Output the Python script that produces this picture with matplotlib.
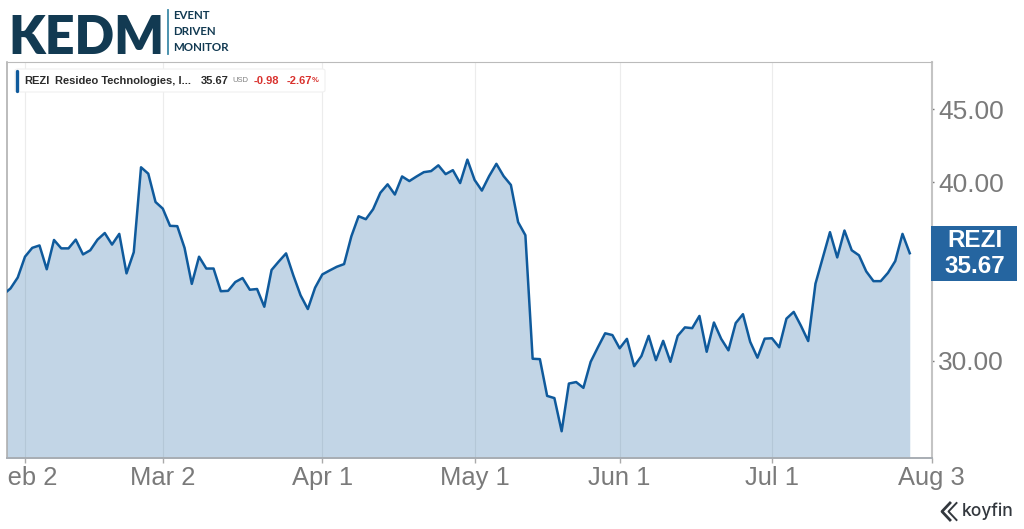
import matplotlib
matplotlib.use("Agg")
import matplotlib.pyplot as plt
import numpy as np
from matplotlib.lines import Line2D
from matplotlib.patches import FancyBboxPatch, Rectangle
from matplotlib.ticker import NullLocator
from matplotlib.transforms import Bbox

# closing prices, one per trading day
precios = [
    33.37, 33.70, 34.30, 35.47, 35.98, 36.12, 34.76, 36.44, 35.95, 35.95,
    36.46, 35.60, 35.84, 36.46, 36.85, 36.17, 36.80, 34.53, 35.73, 40.97,
    40.55, 38.74, 38.33, 37.28, 37.26, 35.98, 33.95, 35.47, 34.80, 34.80,
    33.55, 33.57, 34.05, 34.27, 33.63, 33.67, 32.72, 34.72, 35.20, 35.66,
    34.42, 33.33, 32.60, 33.74, 34.47, 34.69, 34.90, 35.05, 36.65, 37.86,
    37.68, 38.29, 39.32, 39.86, 39.21, 40.37, 40.07, 40.37, 40.65, 40.72,
    41.10, 40.52, 40.78, 39.94, 41.48, 40.14, 39.46, 40.39, 41.20, 40.39,
    39.82, 37.50, 36.72, 30.09, 30.07, 28.34, 28.24, 26.77, 28.91, 28.98,
    28.71, 29.94, 30.65, 31.35, 31.26, 30.60, 31.07, 29.73, 30.22, 31.22,
    30.02, 30.97, 29.94, 31.22, 31.65, 31.61, 32.24, 30.43, 31.90, 31.07,
    30.50, 31.87, 32.33, 30.92, 30.14, 31.08, 31.10, 30.65, 32.10, 32.45,
    31.73, 30.96, 33.96, 35.40, 36.90, 35.43, 37.00, 35.84, 35.55, 34.64,
    34.10, 34.10, 34.56, 35.22, 36.80, 35.67,
]
dias = np.arange(len(precios))

etiquetas_x = ["Feb 2", "Mar 2", "Apr 1", "May 1", "Jun 1", "Jul 1", "Aug 3"]
dias_x = [3, 22, 44, 65, 85, 106, 128]
valores_y = [30, 40, 45]
etiquetas_y = ["30.00", "40.00", "45.00"]

AZUL = "#0f5a9c"
GRIS = "#7a7a7a"
ROJO = "#d9322e"
OSCURO = "#123a52"
W, H = 1024, 529


def px(x, y):
    # pixeles de la imagen a coordenadas de figura
    return x / W, 1 - y / H


plt.rcParams["font.family"] = ["Liberation Sans", "DejaVu Sans"]
fig = plt.figure(figsize=(W / 100, H / 100), dpi=100)
ax = fig.add_axes([7.3 / W, 1 - 458 / H, (931.5 - 7.3) / W, (458 - 62) / H])

# Area y linea
ax.fill_between(dias, precios, 20, color=AZUL, alpha=0.25, linewidth=0, zorder=2)
ax.plot(dias, precios, color=AZUL, linewidth=1.8, zorder=3)

# Escala logaritmica como en el original
ax.set_yscale("log")
ax.set_ylim(25.64, 48.55)
ax.set_xlim(0.56, 127.85)
ax.yaxis.tick_right()
ax.set_yticks(valores_y)
ax.set_yticklabels(etiquetas_y)
ax.yaxis.set_minor_locator(NullLocator())
ax.set_xticks(dias_x)
ax.set_xticklabels(etiquetas_x)
ax.tick_params(axis="y", labelsize=19, labelcolor=GRIS, color="#777777", length=1.6, width=1, pad=3)
ax.tick_params(axis="x", labelsize=18.4, labelcolor=GRIS, color="#aaaaaa", length=3.5, width=1, pad=2)

# La F de "Feb 2" queda cortada por el borde del grafico
ax.get_xticklabels()[0].set_clip_on(True)
ax.get_xticklabels()[0].set_clip_box(Bbox.from_extents(7.5, 0, W, H))

ax.grid(axis="x", color="#ececec", linewidth=0.8, zorder=1)
ax.set_axisbelow(True)

ax.spines["left"].set_color("#aaaaaa")
ax.spines["left"].set_linewidth(1.1)
ax.spines["right"].set_color("#c4c4c4")
ax.spines["right"].set_linewidth(1.5)
ax.spines["top"].set_color("#bbbbbb")
ax.spines["top"].set_linewidth(0.8)
ax.spines["bottom"].set_color("#a8adb3")
ax.spines["bottom"].set_linewidth(1.4)

# Etiqueta de precio a la derecha
x0, y0 = px(931, 281)
fig.add_artist(Rectangle((x0, y0), 86 / W, 55 / H, transform=fig.transFigure,
                         facecolor="#2565a0", edgecolor="none", zorder=5))
fig.text(*px(975, 240.5), "REZI", color="white", fontsize=17.5, fontweight="bold",
         ha="center", va="center", zorder=6)
fig.text(*px(975, 266.5), "35.67", color="white", fontsize=17.5, fontweight="bold",
         ha="center", va="center", zorder=6)

# Leyenda
x0, y0 = px(15, 92)
fig.add_artist(FancyBboxPatch((x0, y0), 310 / W, 23 / H, transform=fig.transFigure,
                              boxstyle="round,pad=0,rounding_size=0.003", mutation_aspect=1,
                              facecolor="white", edgecolor="#f0f0f0", linewidth=0.8, zorder=5))
fig.add_artist(Line2D([16.5 / W, 16.5 / W], [1 - 71 / H, 1 - 91 / H], color=AZUL, linewidth=2.4,
                      solid_capstyle="round", zorder=6))
yl = 80.5
fig.text(*px(24, yl), "REZI", color="#2b2b2b", fontsize=8, fontweight="bold", va="center", zorder=6)
fig.text(*px(55, yl), "Resideo Technologies, I...", color="#2b2b2b", fontsize=8, fontweight="bold",
         va="center", zorder=6)
fig.text(*px(201, yl), "35.67", color="#2b2b2b", fontsize=8, fontweight="bold", va="center", zorder=6)
fig.text(*px(232, yl + 0.5), "USD", color="#808080", fontsize=5.5, va="center", zorder=6)
fig.text(*px(254, yl), "-0.98", color=ROJO, fontsize=8, fontweight="bold", va="center", zorder=6)
fig.text(*px(287, yl), "-2.67", color=ROJO, fontsize=8, fontweight="bold", va="center", zorder=6)
fig.text(*px(312, yl + 0.5), "%", color=ROJO, fontsize=5.5, fontweight="bold", va="center", zorder=6)

# Logo KEDM
fig.text(*px(8, 54), "KEDM", color=OSCURO, fontsize=37.5, fontweight="heavy", family="Lato",
         va="baseline", ha="left")
fig.add_artist(Line2D([167.5 / W, 167.5 / W], [1 - 10 / H, 1 - 54 / H], color="#3d8aa8", linewidth=1.3))
for texto, y in zip(["EVENT", "DRIVEN", "MONITOR"], [15.5, 31.5, 47.5]):
    fig.text(*px(173, y), texto, color=OSCURO, fontsize=8.3, fontweight="bold", family="Lato", va="center")

# Logo koyfin
fig.text(*px(962, 511), "koyfin", color="#33383e", fontsize=12.5, family="Inter", fontweight="medium", va="center")
for dx, lw in ((0, 2.0), (6.5, 1.4)):
    fig.add_artist(Line2D([(950 + dx) / W, (942 + dx) / W, (950 + dx) / W],
                          [1 - 503 / H, 1 - 511.5 / H, 1 - 520 / H], color="#33383e", linewidth=lw))

fig.savefig("out.png", dpi=100)
